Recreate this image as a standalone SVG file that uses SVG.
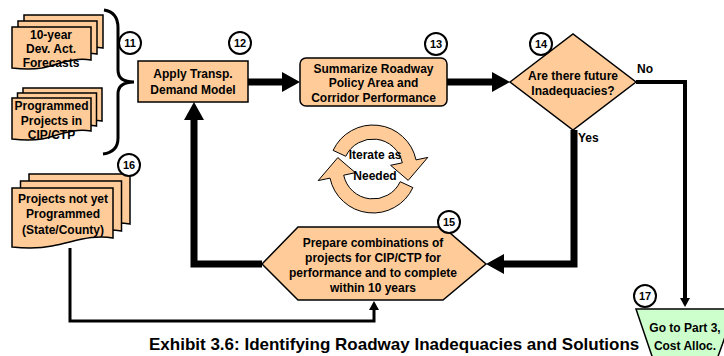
<svg xmlns="http://www.w3.org/2000/svg" width="724" height="356" viewBox="0 0 724 356">
<style>
text{font-family:"Liberation Sans",Arial,sans-serif;font-weight:bold;fill:#000}
.t12{font-size:12px;text-anchor:middle}
.num{font-size:11px;text-anchor:middle}
.lbl{font-size:12px}
.shape{fill:#FFCC99;stroke:#000;stroke-width:1.5}
.circ{fill:#fff;stroke:#000;stroke-width:2}
.thick{fill:none;stroke:#000;stroke-width:7;stroke-linejoin:miter}
.mid{fill:none;stroke:#000;stroke-width:4}
.thin{fill:none;stroke:#000;stroke-width:3}
</style>
<defs>
<marker id="big" markerUnits="userSpaceOnUse" markerWidth="18" markerHeight="20" viewBox="0 0 18 20" refX="0" refY="10" orient="auto"><path d="M0,0 L18,10 L0,20 Z" fill="#000"/></marker>
<marker id="small" markerUnits="userSpaceOnUse" markerWidth="9" markerHeight="10" viewBox="0 0 9 10" refX="0" refY="5" orient="auto"><path d="M0,0 L9,5 L0,10 Z" fill="#000"/></marker>
<path id="doc1" d="M0,0 H79 V33 C60,30 45,38 30,41 C18,43 8,42 0,41 Z"/>
<path id="doc2" d="M0,0 H101 V50 C80,46 62,54 40,58 C25,61 10,60 0,59 Z"/>
</defs>

<g id="connectors">
<path class="thick" d="M248,82 H282" marker-end="url(#big)"/>
<path class="thick" d="M447,82 H492" marker-end="url(#big)"/>
<path class="thick" d="M574,130 V264 H504" marker-end="url(#big)"/>
<path class="thick" d="M262,264 H194 V120" marker-end="url(#big)"/>
<path class="mid" d="M636,82 H685 V298" marker-end="url(#small)"/>
<path class="thin" d="M70,248 V321 H374 V310" marker-end="url(#small)"/>
<path d="M104,10 Q118,12 118,28 L118,70 Q118,82 134,82 Q118,82 118,94 L118,138 Q118,152 103,154" fill="none" stroke="#000" stroke-width="3"/>
</g>

<g id="n11a">
<use href="#doc1" class="shape" x="24" y="15"/>
<use href="#doc1" class="shape" x="18" y="21"/>
<use href="#doc1" class="shape" x="12" y="27"/>
<text class="t12" x="51" y="39">10-year</text>
<text class="t12" x="51" y="53">Dev. Act.</text>
<text class="t12" x="51" y="67">Forecasts</text>
</g>
<g id="n11b">
<use href="#doc1" class="shape" x="23" y="88"/>
<use href="#doc1" class="shape" x="17.5" y="93"/>
<use href="#doc1" class="shape" x="12" y="98"/>
<text class="t12" x="51.5" y="110">Programmed</text>
<text class="t12" x="51.5" y="124.5">Projects in</text>
<text class="t12" x="51.5" y="139">CIP/CTP</text>
</g>
<g id="c11"><circle class="circ" cx="130" cy="43" r="11"/><text class="num" x="130" y="47">11</text></g>

<g id="n12">
<rect class="shape" x="138" y="61" width="110" height="41"/>
<text class="t12" x="193" y="78">Apply Transp.</text>
<text class="t12" x="193" y="94">Demand Model</text>
</g>
<g id="c12"><circle class="circ" cx="240" cy="43" r="11"/><text class="num" x="240" y="47">12</text></g>

<g id="n13">
<rect class="shape" x="300" y="58" width="147" height="48" rx="6"/>
<text class="t12" x="373.5" y="72.5">Summarize Roadway</text>
<text class="t12" x="373.5" y="87">Policy Area and</text>
<text class="t12" x="373.5" y="101.5">Corridor Performance</text>
</g>
<g id="c13"><circle class="circ" cx="436" cy="44" r="11"/><text class="num" x="436" y="48">13</text></g>

<g id="n14">
<polygon class="shape" points="510,82 573,34 636,82 573,130"/>
<text class="t12" x="573" y="80">Are there future</text>
<text class="t12" x="573" y="95">Inadequacies?</text>
<text class="lbl" x="637" y="73">No</text>
<text class="lbl" x="578" y="142">Yes</text>
</g>
<g id="c14"><circle class="circ" cx="541" cy="44" r="11"/><text class="num" x="541" y="48">14</text></g>

<g id="iterate">
<path d="M333.1,150.4 A44,44 0 0 1 416,159.9 L427.8,157.4 L408.2,180.4 L390.6,165.3 L402.3,162.8 A30,30 0 0 0 345.8,156.3 Z" fill="#FFCC99" stroke="#000" stroke-width="1"/>
<path d="M412.9,187.6 A44,44 0 0 1 330,178.1 L318.2,180.6 L337.8,157.6 L355.4,172.7 L343.7,175.2 A30,30 0 0 0 400.2,181.7 Z" fill="#FFCC99" stroke="#000" stroke-width="1"/>
<text class="t12" x="375" y="159">Iterate as</text>
<text class="t12" x="375" y="180">Needed</text>
</g>

<g id="n15">
<polygon class="shape" points="262,264 298,227 443,227 486,264 443,300 298,300"/>
<text class="t12" x="373" y="247">Prepare combinations of</text>
<text class="t12" x="373" y="262">projects for CIP/CTP for</text>
<text class="t12" x="373" y="277">performance and to complete</text>
<text class="t12" x="373" y="292">within 10 years</text>
</g>
<g id="c15"><circle class="circ" cx="449" cy="222" r="11"/><text class="num" x="449" y="226">15</text></g>

<g id="n16">
<use href="#doc2" class="shape" x="29" y="174"/>
<use href="#doc2" class="shape" x="20.5" y="181"/>
<use href="#doc2" class="shape" x="12" y="188"/>
<text class="t12" x="63" y="203">Projects not yet</text>
<text class="t12" x="63" y="217.5">Programmed</text>
<text class="t12" x="63" y="234">(State/County)</text>
</g>
<g id="c16"><circle class="circ" cx="129" cy="165" r="11"/><text class="num" x="129" y="169">16</text></g>

<g id="n17">
<polygon points="636,309 735,309 716,362 654,362" fill="#CCFFCC" stroke="#000" stroke-width="1.5"/>
<text class="t12" x="685" y="332">Go to Part 3,</text>
<text class="t12" x="685" y="350">Cost Alloc.</text>
</g>
<g id="c17"><circle class="circ" cx="645" cy="296" r="11"/><text class="num" x="645" y="300">17</text></g>

<text x="149" y="350" style="font-size:17px">Exhibit 3.6: Identifying Roadway Inadequacies and Solutions</text>
</svg>
